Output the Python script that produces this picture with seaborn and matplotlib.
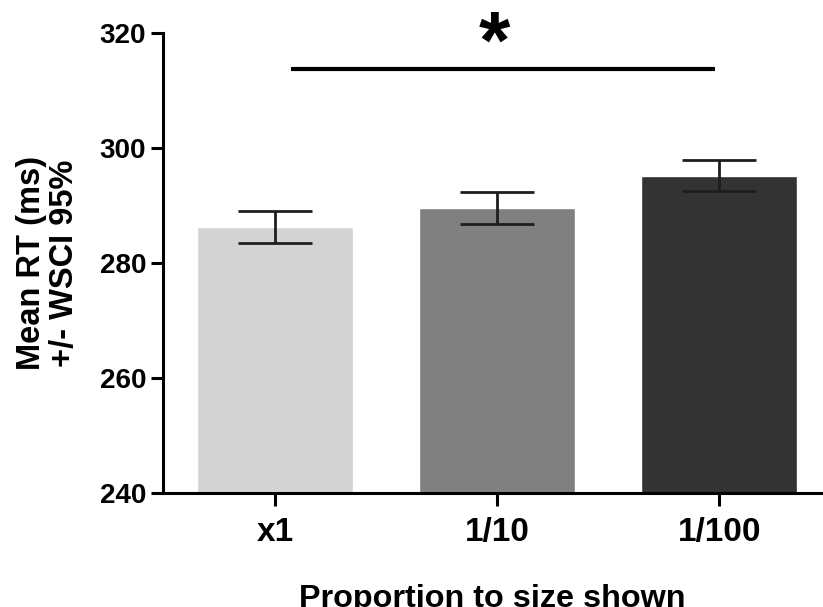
import pandas as pd
import matplotlib
matplotlib.use("Agg")
import matplotlib.pyplot as plt
import seaborn as sns

sns.set_theme(style="ticks")
plt.rcParams["font.family"] = ["Liberation Sans", "DejaVu Sans"]
plt.rcParams["font.weight"] = "bold"
plt.rcParams["text.color"] = "black"
plt.rcParams["axes.labelcolor"] = "black"

# data
conditions = ["x1", "1/10", "1/100"]
mean_rt = [286.2, 289.5, 295.2]
ci95 = [2.8, 2.8, 2.7]
bar_colors = ["#d3d3d3", "#808080", "#333333"]

# significance bracket between x1 and 1/100
sig_from, sig_to = 0.07, 1.98
sig_y = 313.7
sig_label = "*"

df = pd.DataFrame({"cond": conditions, "rt": mean_rt, "ci": ci95})

fig = plt.figure(figsize=(8.23, 6.07), dpi=100)
ax = fig.add_axes([0.198, 0.1878, 0.801, 0.7578])

sns.barplot(
  ax=ax,
  data=df,
  x="cond",
  y="rt",
  hue="cond",
  palette=bar_colors,
  width=0.7,
  errorbar=None,
  legend=False,
  saturation=1,
)

## error bars (WSCI 95%)
ax.errorbar(
  x=range(len(conditions)),
  y=df["rt"],
  yerr=df["ci"],
  fmt="none",
  ecolor="#1e1e1e",
  elinewidth=2,
  capsize=26.5,
  capthick=2,
)

## significance line and star
ax.plot([sig_from, sig_to], [sig_y, sig_y], color="black", lw=3,
        solid_capstyle="butt", clip_on=False)
ax.text((sig_from + sig_to) / 2 - 0.035, sig_y + 0.3, sig_label,
        ha="center", va="baseline", fontsize=58, fontweight="bold",
        color="black", clip_on=False)

ax.set(ylim=(240, 320), xlim=(-0.505, 2.464))
ax.set_yticks([240, 260, 280, 300, 320])

sns.despine(ax=ax)
for side in ["left", "bottom"]:
  ax.spines[side].set_linewidth(2.2)
  ax.spines[side].set_color("black")

ax.tick_params(axis="y", length=9, width=2.2, labelsize=20, pad=3, colors="black")
ax.tick_params(axis="x", length=9, width=2.2, labelsize=24, pad=8, colors="black")
for lbl in ax.get_xticklabels() + ax.get_yticklabels():
  lbl.set_fontweight("bold")

ax.set_xlabel("Proportion to size shown", fontsize=23.3, fontweight="bold",
              labelpad=26.5)
ax.set_ylabel("Mean RT (ms)\n+/- WSCI 95%", fontsize=23.5, fontweight="bold",
              labelpad=14, linespacing=1.1)

fig.savefig("out.png", dpi=100)
